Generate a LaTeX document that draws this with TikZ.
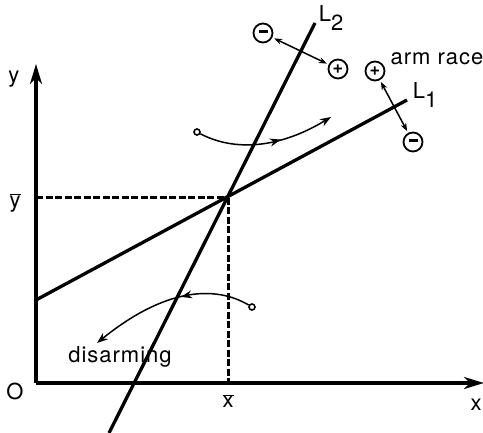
\documentclass[tikz,border=0pt]{standalone}
\usepackage{fontspec}
\setmainfont{TeX Gyre Heros}
\newfontfamily\widesans[LetterSpace=4.5]{TeX Gyre Heros}
\usetikzlibrary{arrows.meta,decorations.markings}
\begin{document}
\begin{tikzpicture}[x=1pt,y=-1pt,
  axis/.style={line width=3.4pt,-{Stealth[length=20pt,width=12pt,inset=6pt]}},
  lineL/.style={line width=3.3pt},
  guide/.style={line width=3pt,dash pattern=on 7pt off 2.5pt},
  lbl/.style={font=\fontsize{22}{24}\selectfont,inner sep=0pt},
  wlbl/.style={font=\widesans\fontsize{22}{24}\selectfont,inner sep=0pt},
  sign/.style={circle,draw,line width=1.8pt,minimum size=19pt,inner sep=0pt,font=\fontsize{18}{18}\selectfont\bfseries},
  dotnode/.style={circle,draw,line width=1.6pt,minimum size=6pt,inner sep=0pt},
  dbl/.style={line width=1.5pt,{Stealth[length=8pt,width=6pt]}-{Stealth[length=8pt,width=6pt]},shorten <=2pt,shorten >=2pt},
  flow/.style={line width=1.5pt,-{Stealth[length=11pt,width=8pt,open]},
    postaction={decorate},decoration={markings,mark=at position #1 with {\arrow{Stealth[length=11pt,width=8pt,open]}}}}
]
\useasboundingbox (0,0) rectangle (483,433);
\coordinate (O) at (36,383);
\coordinate (Ytip) at (36,64);
\coordinate (Xtip) at (484,383);
\coordinate (E) at (228,198);
\coordinate (Ybar) at (36,198);
\coordinate (Xbar) at (228,383);
\coordinate (L1a) at (36,300);
\coordinate (L1b) at (407,100);
\coordinate (L2a) at (109,433);
\coordinate (L2b) at (315,23);
% axes
\draw[axis] (O) -- (Ytip);
\draw[axis] (O) -- (Xtip);
% guides
\draw[guide] (Ybar) -- (E);
\draw[guide] (E) -- (Xbar);
% lines
\draw[lineL] (L1a) -- (L1b);
\draw[lineL] (L2a) -- (L2b);
% labels
\node[lbl] (ly) at (14,79) {y};
\node[lbl] (lyb) at (15,203) {$\overline{\mbox{y}}$};
\node[lbl] (lO) at (15,391) {O};
\node[lbl] (lxb) at (228,401) {$\overline{\mbox{x}}$};
\node[lbl] (lx) at (476,405) {x};
\node[lbl] (lL1) at (425,95) {L\raisebox{-0.4em}{1}};
\node[lbl] (lL2) at (331,18) {L\raisebox{-0.4em}{2}};
\node[wlbl] (arm) at (437,59) {arm race};
\node[wlbl] (dis) at (120,357) {disarming};
% signs
\node[sign] (m1) at (263,33) {\rule[0.25ex]{9pt}{2.6pt}};
\node[sign] (p1) at (338,69) {+};
\node[sign] (p2) at (375,71) {+};
\node[sign] (m2) at (413,142) {\rule[0.25ex]{9pt}{2.6pt}};
\draw[dbl] (m1) -- (p1);
\draw[dbl] (p2) -- (m2);
% flow curves
\node[dotnode] (d1) at (197,132) {};
\coordinate (e1) at (331,117);
\draw[flow=0.6] (d1) .. controls (235,152) and (280,148) .. (e1);
\node[dotnode] (d2) at (252,307) {};
\coordinate (e2) at (97,343);
\draw[flow=0.42] (d2) .. controls (215,285) and (165,288) .. (e2);
\end{tikzpicture}
\end{document}
